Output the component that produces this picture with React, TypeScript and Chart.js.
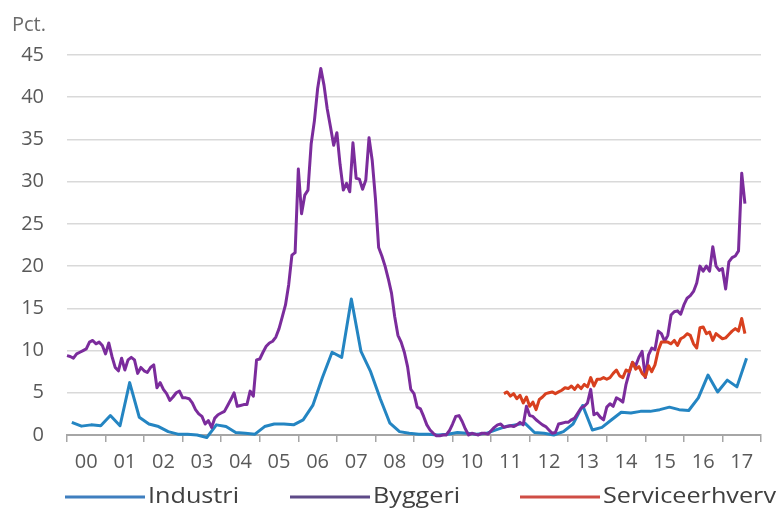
import React, { useEffect, useRef } from "react";
import { Chart, registerables } from "chart.js";

Chart.register(...registerables);

// ---- data ----
const yearLabels = ["00", "01", "02", "03", "04", "05", "06", "07", "08", "09", "10", "11", "12", "13", "14", "15", "16", "17"];
const yTickValues = [0, 5, 10, 15, 20, 25, 30, 35, 40, 45];
const seriesNames = ["Industri", "Byggeri", "Serviceerhverv"];
const seriesColors = ["#2485c2", "#7b2c9c", "#d8401f"];
const legendColors = ["#3f7fbf", "#5e4a88", "#cf4d45"];

// Industri: quarterly, 2000 Q1 .. 2017 Q3
const industri = [
  1.5, 1.05, 1.2, 1.1,
  2.3, 1.1, 6.2, 2.1,
  1.3, 1.0, 0.4, 0.1,
  0.1, 0.0, -0.3, 1.2,
  1.0, 0.3, 0.2, 0.1,
  1.0, 1.3, 1.3, 1.2,
  1.8, 3.5, 6.8, 9.8,
  9.2, 16.1, 9.9, 7.5,
  4.3, 1.4, 0.4, 0.2,
  0.1, 0.1, 0.0, 0.1,
  0.3, 0.2, 0.1, 0.2,
  0.6, 1.0, 1.2, 1.4,
  0.3, 0.2, 0.0, 0.4,
  1.3, 3.5, 0.6, 0.9,
  1.8, 2.7, 2.6, 2.8,
  2.8, 3.0, 3.3, 3.0,
  2.9, 4.4, 7.1, 5.1,
  6.5, 5.7, 9.1,
];

// Byggeri: monthly, Jan 2000 .. Aug 2017
const byggeri = [
  9.4, 9.3, 9.1, 9.6, 9.8, 10.0, 10.2, 11.0, 11.2, 10.8, 11.0, 10.6,
  9.6, 10.9, 9.3, 8.0, 7.6, 9.1, 7.7, 8.9, 9.2, 8.9, 7.3, 8.0,
  7.6, 7.4, 8.0, 8.3, 5.6, 6.2, 5.4, 4.9, 4.1, 4.5, 5.0, 5.2,
  4.4, 4.4, 4.3, 3.8, 3.0, 2.5, 2.2, 1.3, 1.7, 0.9, 2.0, 2.4,
  2.6, 2.8, 3.5, 4.2, 5.0, 3.4, 3.5, 3.6, 3.6, 5.2, 4.6, 8.9,
  9.0, 9.8, 10.5, 10.9, 11.1, 11.6, 12.6, 14.0, 15.4, 17.8, 21.3, 21.6,
  31.5, 26.2, 28.4, 29.0, 34.5, 37.2, 41.0, 43.4, 41.4, 38.6, 36.5, 34.3,
  35.8, 32.0, 29.0, 29.8, 28.8, 34.6, 30.4, 30.3, 29.1, 30.2, 35.2, 32.5,
  28.0, 22.2, 21.2, 20.0, 18.5, 16.8, 14.0, 11.8, 11.0, 9.8, 8.1, 5.4,
  4.9, 3.3, 3.1, 2.2, 1.2, 0.6, 0.2, -0.1, -0.1, 0.0, 0.0, 0.5,
  1.3, 2.2, 2.3, 1.6, 0.7, 0.0, 0.2, 0.1, 0.0, 0.2, 0.2, 0.1,
  0.5, 0.9, 1.2, 1.3, 0.9, 1.0, 1.1, 1.0, 1.2, 1.5, 1.2, 3.4,
  2.3, 2.2, 1.8, 1.5, 1.2, 1.0, 0.6, 0.2, 0.3, 1.3, 1.4, 1.5,
  1.5, 1.8, 2.0, 2.6, 3.2, 3.4, 3.8, 5.4, 2.4, 2.6, 2.1, 1.8,
  3.3, 3.7, 3.4, 4.4, 4.2, 3.9, 6.0, 7.4, 8.6, 8.2, 9.2, 9.9,
  6.8, 9.5, 10.3, 10.1, 12.3, 12.0, 11.1, 11.8, 14.2, 14.6, 14.7, 14.3,
  15.4, 16.2, 16.5, 17.0, 18.0, 20.0, 19.4, 20.0, 19.4, 22.3, 20.0, 19.5,
  19.7, 17.3, 20.5, 21.0, 21.2, 21.8, 31.0, 27.4,
];

// Serviceerhverv: monthly, May 2011 .. Aug 2017
const serviceStartMonth = 136;
const service = [
  4.9, 5.1, 4.6, 4.9, 4.3, 4.7, 3.8, 4.5,
  3.4, 3.9, 3.0, 4.2, 4.5, 4.9, 5.0, 5.1, 4.9, 5.1, 5.3, 5.6,
  5.5, 5.8, 5.4, 5.9, 5.5, 6.0, 5.7, 6.8, 5.8, 6.6, 6.6, 6.8,
  6.6, 6.8, 7.3, 7.7, 7.0, 6.8, 7.7, 7.5, 8.6, 7.8, 8.1, 7.3,
  6.9, 8.2, 7.5, 8.3, 10.0, 11.0, 11.0, 11.0, 10.8, 11.2, 10.6, 11.4,
  11.6, 12.0, 11.8, 10.8, 10.3, 12.7, 12.8, 12.0, 12.2, 11.2, 12.0, 11.7,
  11.4, 11.5, 11.9, 12.3, 12.6, 12.3, 13.8, 12.0,
];

// ---- styling ----
const FONT_FAMILY = "'Open Sans', sans-serif";
const TEXT_GRAY = "#595959";

const decorPlugin = {
  id: "decor",
  afterDraw(chart: any) {
    const ctx = chart.ctx;
    const area = chart.chartArea;
    ctx.save();
    ctx.font = `20px ${FONT_FAMILY}`;
    ctx.fillStyle = "#6b6b6b";
    ctx.textAlign = "left";
    ctx.textBaseline = "middle";
    ctx.fillText("Pct.", 12, 25);

    // legend
    const legendY = 497;
    const slotStarts = [65, 290, 520];
    const lineLen = 80;
    ctx.font = `21px ${FONT_FAMILY}`;
    chart.data.datasets.forEach((ds: any, i: number) => {
      const x0 = slotStarts[i];
      ctx.strokeStyle = legendColors[i];
      ctx.lineWidth = 3;
      ctx.beginPath();
      ctx.moveTo(x0, legendY);
      ctx.lineTo(x0 + lineLen, legendY);
      ctx.stroke();
      ctx.fillStyle = "#404040";
      ctx.save();
      ctx.translate(x0 + lineLen + 3, legendY);
      ctx.scale(1.2, 1);
      ctx.fillText(ds.label, 0, 0);
      ctx.restore();
    });
    ctx.restore();
    void area;
  },
};

export default function App() {
  const canvasRef = useRef<HTMLCanvasElement | null>(null);

  useEffect(() => {
    const canvas = canvasRef.current;
    if (!canvas) return;

    const industriPts = industri.map((v, i) => ({ x: (1.5 + 3 * i) / 12, y: v }));
    const byggeriPts = byggeri.map((v, i) => ({ x: i / 12, y: v }));
    const servicePts = service.map((v, i) => ({ x: (serviceStartMonth + i) / 12, y: v }));

    const chart = new Chart(canvas, {
      type: "line",
      data: {
        datasets: [
          { label: seriesNames[0], data: industriPts, borderColor: seriesColors[0], order: 2 },
          { label: seriesNames[1], data: byggeriPts, borderColor: seriesColors[1], order: 1 },
          { label: seriesNames[2], data: servicePts, borderColor: seriesColors[2], order: 0 },
        ],
      },
      options: {
        responsive: false,
        animation: false,
        parsing: false as any,
        normalized: true,
        datasets: {
          line: {
            borderWidth: 3,
            pointRadius: 0,
            tension: 0,
            fill: false,
            clip: false as any,
            borderJoinStyle: "round",
          },
        },
        layout: { padding: { top: 55, right: 16, bottom: 0, left: 0 } },
        plugins: {
          legend: { display: false },
          tooltip: { enabled: false },
          title: { display: false },
        },
        scales: {
          x: {
            type: "linear",
            min: 0,
            max: 18,
            afterBuildTicks: (axis: any) => {
              axis.ticks = yearLabels.map((_, i) => ({ value: i + 0.5 }));
            },
            afterFit: (axis: any) => {
              axis.height = 79;
            },
            ticks: {
              autoSkip: false,
              maxRotation: 0,
              color: TEXT_GRAY,
              padding: 8,
              font: { family: FONT_FAMILY, size: 20 },
              callback: (value: any) => yearLabels[Math.floor(Number(value))],
            },
            grid: {
              offset: true,
              drawOnChartArea: false,
              tickLength: 7,
              color: "#a6a6a6",
              lineWidth: 1.5,
            },
            border: { display: true, color: "#a6a6a6", width: 2 },
          },
          y: {
            min: 0,
            max: 45,
            afterBuildTicks: (axis: any) => {
              axis.ticks = yTickValues.map((v) => ({ value: v }));
            },
            afterFit: (axis: any) => {
              axis.width = 67;
            },
            ticks: {
              color: TEXT_GRAY,
              padding: 23,
              font: { family: FONT_FAMILY, size: 20 },
            },
            grid: { color: "#d9d9d9", lineWidth: 1.5, drawTicks: false },
            border: { display: false },
          },
        },
      },
      plugins: [decorPlugin],
    });

    return () => chart.destroy();
  }, []);

  return (
    <div style={{ position: "fixed", left: 0, top: 0, width: 777, height: 514, background: "#ffffff" }}>
      <canvas ref={canvasRef} width={777} height={514} style={{ display: "block" }} />
    </div>
  );
}
